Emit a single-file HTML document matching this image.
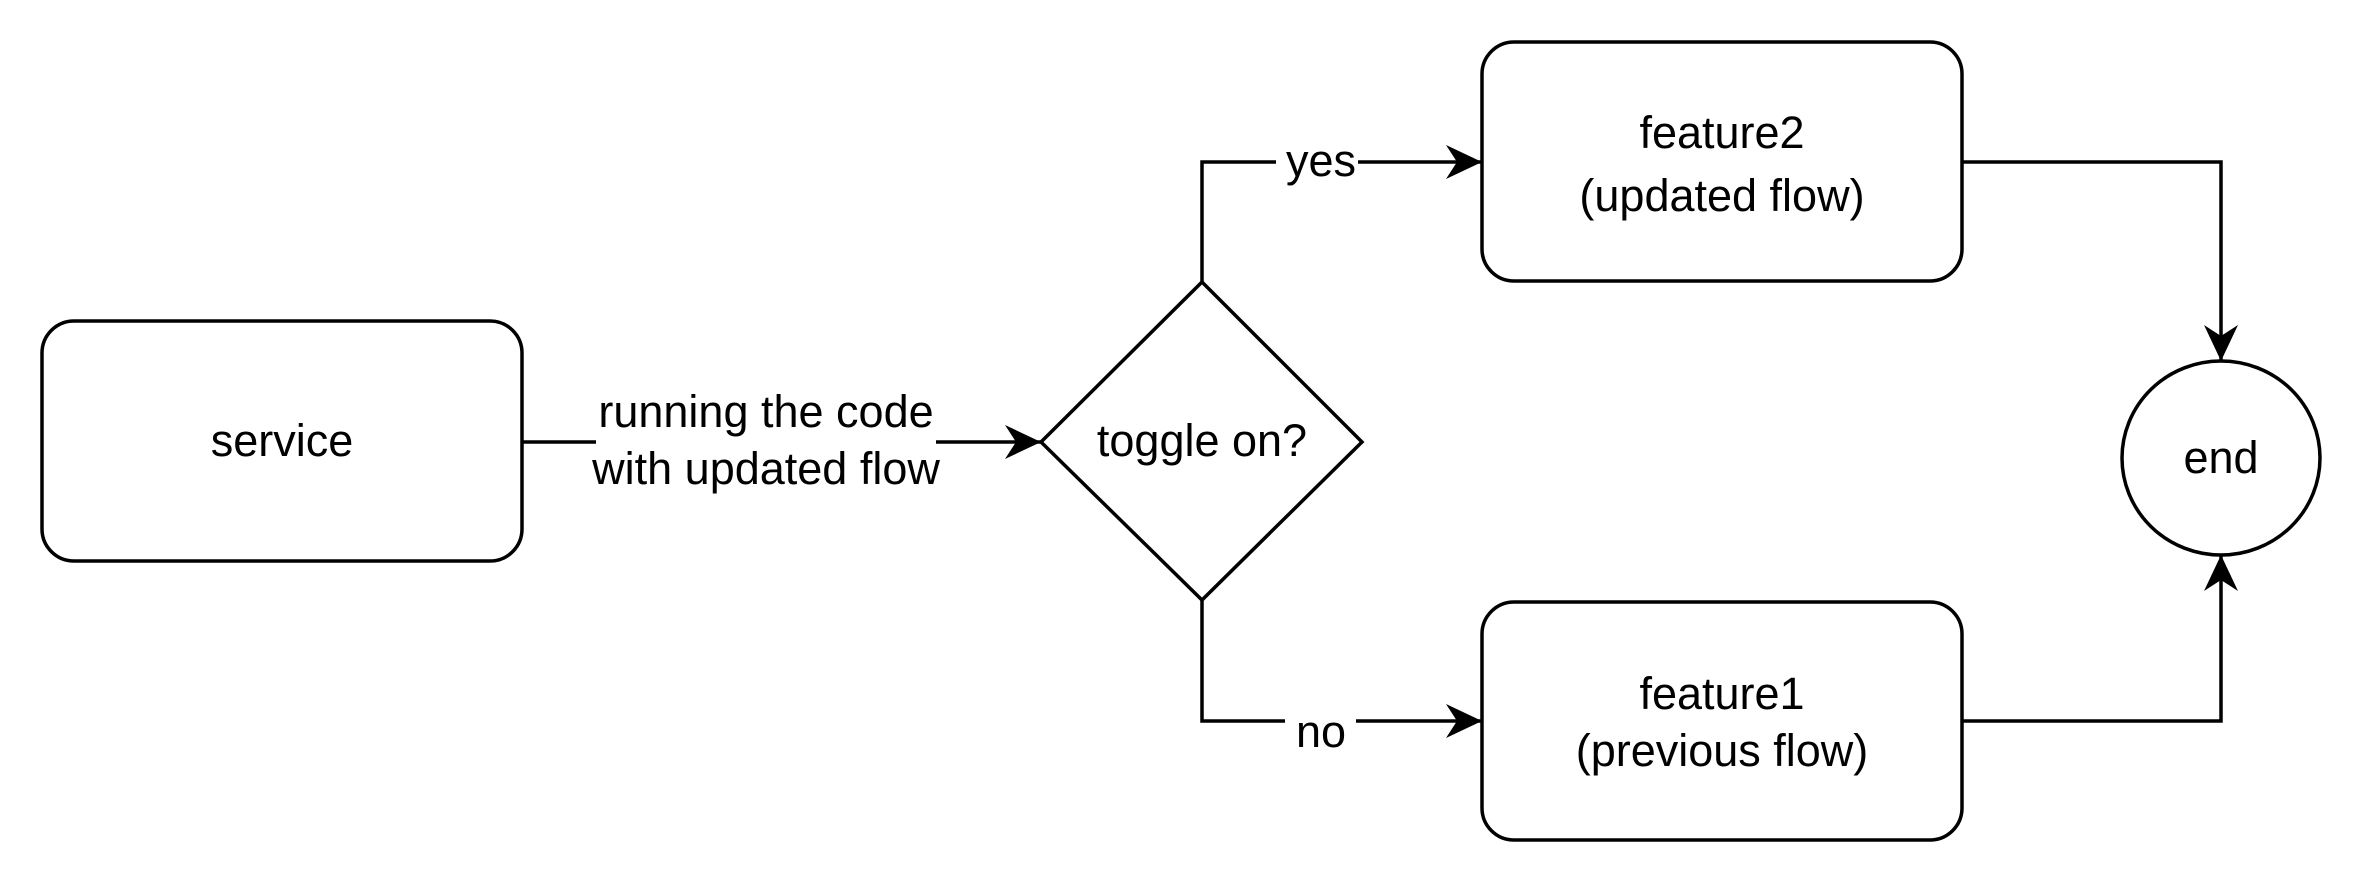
<!DOCTYPE html>
<html><head><meta charset="utf-8"><style>
html,body{margin:0;padding:0;background:#fff;}
svg{display:block;}
text{font-family:"Liberation Sans",Helvetica,Arial,sans-serif;font-size:45px;fill:#000;}
</style></head><body>
<svg width="2364" height="884" viewBox="0 0 2364 884" xmlns="http://www.w3.org/2000/svg">
<defs>
<marker id="a" markerUnits="userSpaceOnUse" markerWidth="40" markerHeight="40" refX="36" refY="18" orient="auto">
<path d="M0,1 L36,18 L0,35 L11,18 Z" fill="#000"/>
</marker>
</defs>
<g fill="none" stroke="#000" stroke-width="3.5">
<rect x="42" y="321" width="480" height="240" rx="32"/>
<rect x="1482" y="42" width="480" height="239" rx="32"/>
<rect x="1482" y="602" width="480" height="238" rx="32"/>
<polygon points="1202,282 1362,442 1202,600 1041,442"/>
<ellipse cx="2221" cy="458" rx="99" ry="97"/>
<path d="M522,442 H596"/>
<path d="M936,442 H1041" marker-end="url(#a)"/>
<path d="M1202,282 V162 H1276"/>
<path d="M1358,162 H1482" marker-end="url(#a)"/>
<path d="M1202,600 V721 H1285"/>
<path d="M1356,721 H1482" marker-end="url(#a)"/>
<path d="M1962,162 H2221 V361" marker-end="url(#a)"/>
<path d="M1962,721 H2221 V555" marker-end="url(#a)"/>
</g>
<g text-anchor="middle">
<text x="282" y="456">service</text>
<text x="766" y="427">running the code</text>
<text x="766" y="484">with updated flow</text>
<text x="1202" y="456">toggle on?</text>
<text x="1321" y="176">yes</text>
<text x="1321" y="747">no</text>
<text x="1722" y="148">feature2</text>
<text x="1722" y="211">(updated flow)</text>
<text x="1722" y="709">feature1</text>
<text x="1722" y="766">(previous flow)</text>
<text x="2221" y="473">end</text>
</g>
</svg>
</body></html>
